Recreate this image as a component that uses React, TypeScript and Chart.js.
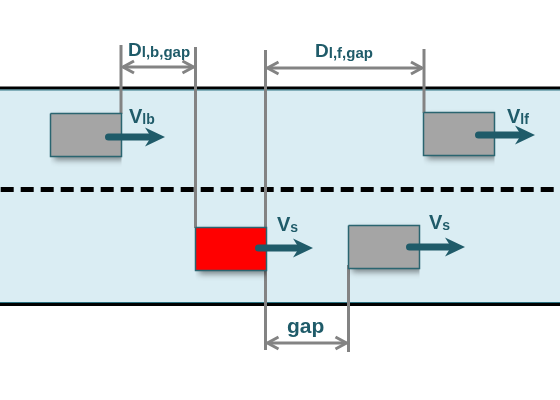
import { useEffect, useRef } from "react"
import { Chart, registerables } from "chart.js"

// Diagram units: x runs along the road, y across it (downwards), 560 x 400 view
const viewWidth = 560
const viewHeight = 400

// road
const roadTop = 89
const roadBottom = 303
const laneDivider = 189.5

// vehicles (rear edge / top edge)
const vehicleIds = ["lb", "lf", "ego", "s"]
const vehicleRear = [50.5, 423.5, 195.5, 348.5]
const vehicleTop = [113.5, 112.5, 227.5, 225.5]
const vehicleLength = 71
const vehicleWidth = 43

// speed arrows
const speedSubs = ["lb", "lf", "s", "s"]
const arrowTail = [108.5, 478.5, 258.5, 409.5]
const arrowTip = [165, 535, 313, 465]
const arrowY = [137, 135, 248, 247]
const speedTextX = [129, 507, 277, 429]
const speedTextY = [123, 123, 231, 229]

// extension lines
const extX = [121, 195.5, 265.5, 424, 348.5]
const extFrom = [45, 47, 50, 49, 265]
const extTo = [114, 228, 350, 113, 352]

// dimension arrows
const dimMain = ["D", "D", "gap"]
const dimSub = ["l,b,gap", "l,f,gap", ""]
const dimY = [67, 68, 343]
const dimFrom = [121, 265.5, 265.5]
const dimTo = [195.5, 424, 348.5]
const dimTextX = [128, 315, 287]
const dimTextY = [56, 57, 333]

const teal = "#1f5b69"
const grey = "#838383"
const font = '"Liberation Sans", Arial, sans-serif'

const shadowPlugin = {
  id: "vehicleShadow",
  beforeDatasetDraw(chart: any, args: any) {
    if (!chart.data.datasets[args.index].shadow) return
    const ctx = chart.ctx
    ctx.save()
    ctx.shadowColor = "rgba(0, 0, 0, 0.45)"
    ctx.shadowBlur = 6
    ctx.shadowOffsetX = 3
    ctx.shadowOffsetY = 3
  },
  afterDatasetDraw(chart: any, args: any) {
    if (chart.data.datasets[args.index].shadow) chart.ctx.restore()
  },
}

// shadow plugin first so it runs before the filler
Chart.register(shadowPlugin, ...registerables)

const labelPlugin = {
  id: "diagramLabels",
  afterDatasetsDraw(chart: any) {
    const { ctx, scales } = chart
    const write = (main: string, sub: string, px: number, py: number, mainSize: number, subSize: number) => {
      const left = scales.x.getPixelForValue(px)
      const base = scales.y.getPixelForValue(py)
      ctx.font = `bold ${mainSize}px ${font}`
      ctx.fillText(main, left, base)
      if (!sub) return
      const w = ctx.measureText(main).width
      ctx.font = `bold ${subSize}px ${font}`
      ctx.fillText(sub, left + w, base + 1)
    }
    ctx.save()
    ctx.fillStyle = teal
    ctx.textBaseline = "alphabetic"
    speedSubs.forEach((s, i) => write("V", s, speedTextX[i], speedTextY[i], 20, 14))
    dimMain.forEach((m, i) => write(m, dimSub[i], dimTextX[i], dimTextY[i], dimSub[i] ? 19 : 21, 15))
    ctx.restore()
  },
}

const pt = (x: number, y: number) => ({ x, y })

function buildDatasets() {
  const layers: any[] = []
  const add = (ds: any) =>
    layers.push({ pointRadius: 0, pointHoverRadius: 0, fill: false, tension: 0, borderWidth: 0, ...ds })

  // road surface and edges
  add({ data: [pt(0, roadTop), pt(viewWidth, roadTop)], fill: { value: roadBottom }, backgroundColor: "#daedf3" })
  add({ data: [pt(0, roadTop - 1), pt(viewWidth, roadTop - 1)], borderColor: "#000", borderWidth: 3 })
  add({ data: [pt(0, roadTop + 1), pt(viewWidth, roadTop + 1)], borderColor: "#2b7282", borderWidth: 1 })
  add({ data: [pt(0, roadBottom - 0.5), pt(viewWidth, roadBottom - 0.5)], borderColor: "#2b7282", borderWidth: 1 })
  add({ data: [pt(0, roadBottom + 1.5), pt(viewWidth, roadBottom + 1.5)], borderColor: "#000", borderWidth: 3 })
  add({
    data: [pt(0, laneDivider), pt(viewWidth, laneDivider)],
    borderColor: "#000",
    borderWidth: 5,
    borderDash: [13, 7],
    borderDashOffset: -0.7,
    borderCapStyle: "butt",
  })

  // extension lines
  extX.forEach((x, i) => add({ data: [pt(x, extFrom[i]), pt(x, extTo[i])], borderColor: grey, borderWidth: 3 }))

  // dimension arrows
  dimY.forEach((y, i) => {
    const a = dimFrom[i] + 2
    const b = dimTo[i] - 2
    const line = { borderColor: grey, borderWidth: 3, borderJoinStyle: "miter", borderCapStyle: "butt" }
    add({ data: [pt(a, y), pt(b, y)], ...line })
    add({ data: [pt(a + 11, y - 6), pt(a, y), pt(a + 11, y + 6)], ...line })
    add({ data: [pt(b - 11, y - 6), pt(b, y), pt(b - 11, y + 6)], ...line })
  })

  // vehicles
  vehicleIds.forEach((id, i) => {
    const x = vehicleRear[i]
    const y = vehicleTop[i]
    const L = vehicleLength
    const W = vehicleWidth
    add({
      data: [pt(x, y), pt(x + L, y)],
      fill: { value: y + W },
      backgroundColor: id === "ego" ? "#ff0000" : "#a5a5a5",
      shadow: true,
    })
    add({
      data: [pt(x, y), pt(x + L, y), pt(x + L, y + W), pt(x, y + W), pt(x, y)],
      borderColor: "#2a6570",
      borderWidth: 1.5,
      borderJoinStyle: "miter",
    })
  })

  // speed arrows
  arrowTip.forEach((tip, i) => {
    const y = arrowY[i]
    add({ data: [pt(arrowTail[i], y), pt(tip - 14, y)], borderColor: teal, borderWidth: 7, borderCapStyle: "round" })
    add({
      data: [pt(tip, y), pt(tip - 20, y - 9.5), pt(tip - 14, y), pt(tip - 20, y + 9.5), pt(tip, y)],
      fill: "shape",
      backgroundColor: teal,
    })
  })

  // first dataset is drawn on top, so give later layers a lower order
  return layers.map((ds, i) => ({ ...ds, order: layers.length - i }))
}

export default function App() {
  const chartRef = useRef<HTMLCanvasElement>(null)
  const chartInstance = useRef<Chart | null>(null)

  useEffect(() => {
    if (!chartRef.current) return
    const ctx = chartRef.current.getContext("2d")
    if (!ctx) return

    if (chartInstance.current) {
      chartInstance.current.destroy()
    }

    chartInstance.current = new Chart(ctx, {
      type: "line",
      data: { datasets: buildDatasets() },
      options: {
        animation: false,
        responsive: false,
        events: [],
        layout: { padding: 0 },
        plugins: {
          legend: { display: false },
          tooltip: { enabled: false },
        },
        scales: {
          x: { type: "linear", min: 0, max: viewWidth, display: false },
          y: { type: "linear", min: 0, max: viewHeight, reverse: true, display: false },
        },
      },
      plugins: [labelPlugin],
    } as any)

    return () => {
      if (chartInstance.current) {
        chartInstance.current.destroy()
        chartInstance.current = null
      }
    }
  }, [])

  return (
    <div style={{ position: "absolute", left: 0, top: 0, width: viewWidth, height: viewHeight, background: "#fff" }}>
      <canvas ref={chartRef} width={viewWidth} height={viewHeight} />
    </div>
  )
}
